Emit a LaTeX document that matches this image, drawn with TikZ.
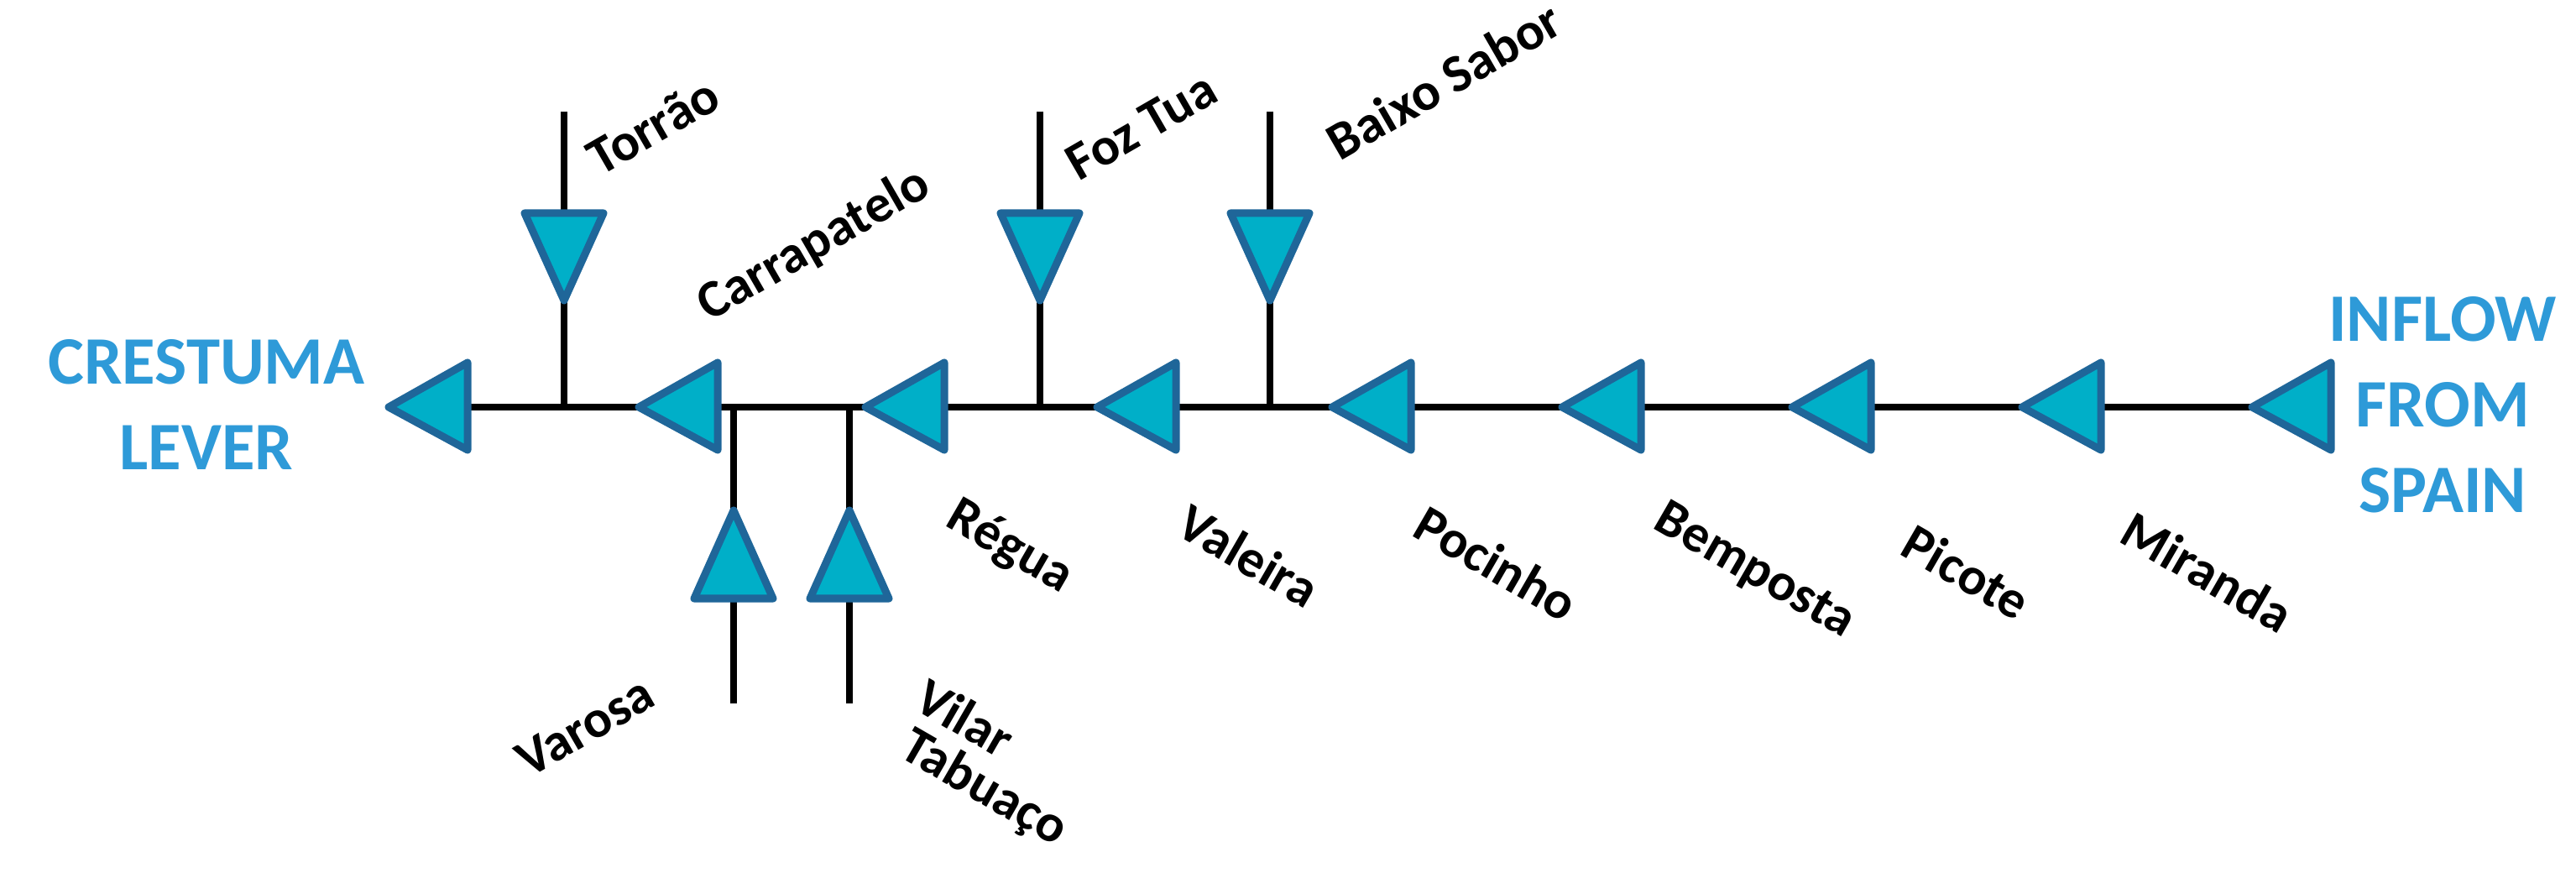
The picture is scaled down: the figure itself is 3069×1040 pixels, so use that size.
\documentclass[tikz,border=0pt]{standalone}
\usepackage{fontspec}
\setmainfont{Carlito}
\begin{document}
\begin{tikzpicture}[x=0.01cm,y=-0.01cm,
  tri/.style={fill=tealc,draw=bordc,line width=0.9mm,line join=round},
  riv/.style={line width=0.8mm,black},
  lab/.style={font=\fontsize{18}{24}\selectfont\bfseries,inner sep=0pt},
  big/.style={font=\fontsize{23}{29}\selectfont\bfseries,text=bluec,align=center,inner sep=0pt}]
\definecolor{tealc}{HTML}{00AFC8}
\definecolor{bordc}{HTML}{1F6699}
\definecolor{bluec}{HTML}{2E9AD8}
\useasboundingbox (0,0) rectangle (3069,1040);
% main river
\coordinate (L) at (470,485); \coordinate (R) at (2770,485);
\draw[riv] (L) -- (R);
% tributaries
\coordinate (tT) at (672,133); \coordinate (jT) at (672,485);
\coordinate (tF) at (1239,133); \coordinate (jF) at (1239,485);
\coordinate (tB) at (1513,133); \coordinate (jB) at (1513,485);
\coordinate (tV) at (874,838); \coordinate (jV) at (874,485);
\coordinate (tW) at (1012,838); \coordinate (jW) at (1012,485);
\foreach \a/\b in {tT/jT,tF/jF,tB/jB,tV/jV,tW/jW} \draw[riv] (\a) -- (\b);
% left triangles on main line
\foreach \x in {463,761,1031,1307,1587,1861,2135,2409,2683}
  \draw[tri] (\x,485) -- (\x+94,432) -- (\x+94,536) -- cycle;
% down triangles
\foreach \x in {672,1239,1513}
  \draw[tri] (\x,358) -- (\x-47,254) -- (\x+47,254) -- cycle;
% up triangles
\foreach \x in {874,1012}
  \draw[tri] (\x,608) -- (\x-47,713) -- (\x+47,713) -- cycle;
% labels
\node[lab,rotate=30] (torrao) at (778,150) {Torrão};
\node[lab,rotate=30] (carr) at (970,292) {Carrapatelo};
\node[lab,rotate=30] (foz) at (1360,150) {Foz Tua};
\node[lab,rotate=30] (baixo) at (1720,96) {Baixo Sabor};
\node[lab,rotate=30] (varosa) at (697,866) {Varosa};
\node[lab,rotate=-30] (regua) at (1203,652) {Régua};
\node[lab,rotate=-30] (valeira) at (1488,662) {Valeira};
\node[lab,rotate=-30] (pocinho) at (1783,671) {Pocinho};
\node[lab,rotate=-30] (bemposta) at (2090,681) {Bemposta};
\node[lab,rotate=-30] (picote) at (2343,681) {Picote};
\node[lab,rotate=-30] (miranda) at (2630,681) {Miranda};
\node[lab,rotate=-30] (vilar) at (1150,855) {Vilar};
\node[lab,rotate=-30] (tabuaco) at (1172,940) {Tabuaço};
\node[big] (crest) at (246,482) {CRESTUMA\\LEVER};
\node[big] (inflow) at (2910,482) {INFLOW\\FROM\\SPAIN};
\end{tikzpicture}
\end{document}
